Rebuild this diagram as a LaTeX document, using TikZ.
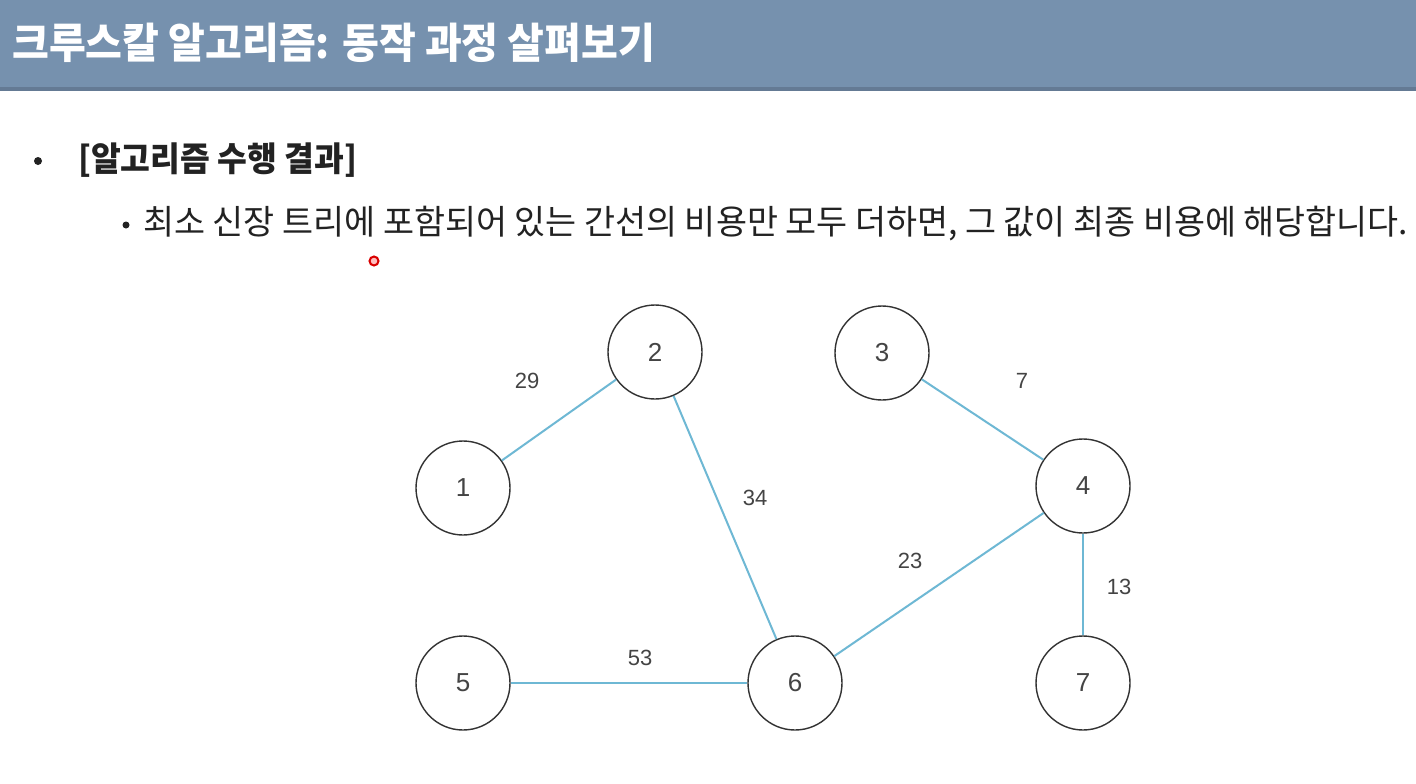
\documentclass[tikz,border=0pt]{standalone}
\usepackage{fontspec}
\setmainfont{Liberation Sans}
\newfontfamily\kr{Noto Sans CJK KR}
\definecolor{band}{RGB}{118,145,174}
\definecolor{bandline}{RGB}{100,122,148}
\definecolor{edge}{RGB}{110,184,212}
\definecolor{txt}{RGB}{34,34,34}
\definecolor{numc}{RGB}{68,68,68}
\tikzset{
  vtx/.style={circle,draw=black!80,line width=1.4pt,minimum size=94pt,inner sep=0pt,
    font=\fontsize{26}{26}\selectfont,text=numc},
  wt/.style={font=\fontsize{22}{22}\selectfont,text=numc,inner sep=0pt},
  mst/.style={draw=edge,line width=2pt},
  bul/.style={circle,fill=txt,inner sep=0pt},
  kt/.style={anchor=west,inner sep=0pt,text=txt}
}
\begin{document}
\begin{tikzpicture}[x=1pt,y=-1pt]
\useasboundingbox (0,0) rectangle (1416,784);
\fill[white] (0,0) rectangle (1416,784);
% header
\fill[band] (0,0) rectangle (1416,89);
\fill[bandline] (0,87) rectangle (1416,91);
\node[anchor=west,inner sep=0pt,text=white] (title) at (12,43)
  {\resizebox{643pt}{\height}{\kr\bfseries\fontsize{42}{42}\selectfont 크루스칼 알고리즘: 동작 과정 살펴보기}};
% bullets
\node[bul,minimum size=8pt] (b1) at (38,161) {};
\node[kt] (t1) at (78,160)
  {\resizebox{279pt}{\height}{\kr\bfseries\fontsize{34}{34}\selectfont [알고리즘 수행 결과]}};
\node[bul,minimum size=7pt] (b2) at (126,225) {};
\node[kt] (t2) at (143,224)
  {\resizebox{1265pt}{\height}{\kr\fontsize{34}{34}\selectfont 최소 신장 트리에 포함되어 있는 간선의 비용만 모두 더하면, 그 값이 최종 비용에 해당합니다.}};
% laser pointer dot
\node[circle,draw=red!85!black,line width=2pt,fill=red!25,minimum size=9pt,inner sep=0pt] (dot) at (374,261) {};
% vertices
\node[vtx] (n1) at (463,488) {1};
\node[vtx] (n2) at (655,352) {2};
\node[vtx] (n3) at (882,353) {3};
\node[vtx] (n4) at (1083,486) {4};
\node[vtx] (n5) at (463,683) {5};
\node[vtx] (n6) at (795,683) {6};
\node[vtx] (n7) at (1083,683) {7};
% edges
\draw[mst] (n1) -- (n2);
\draw[mst] (n2) -- (n6);
\draw[mst] (n3) -- (n4);
\draw[mst] (n4) -- (n6);
\draw[mst] (n4) -- (n7);
\draw[mst] (n5) -- (n6);
% weights
\node[wt] (w12) at (527,381) {29};
\node[wt] (w26) at (755,498) {34};
\node[wt] (w34) at (1022,381) {7};
\node[wt] (w46) at (910,561) {23};
\node[wt] (w47) at (1119,587) {13};
\node[wt] (w56) at (640,658) {53};
\end{tikzpicture}
\end{document}
